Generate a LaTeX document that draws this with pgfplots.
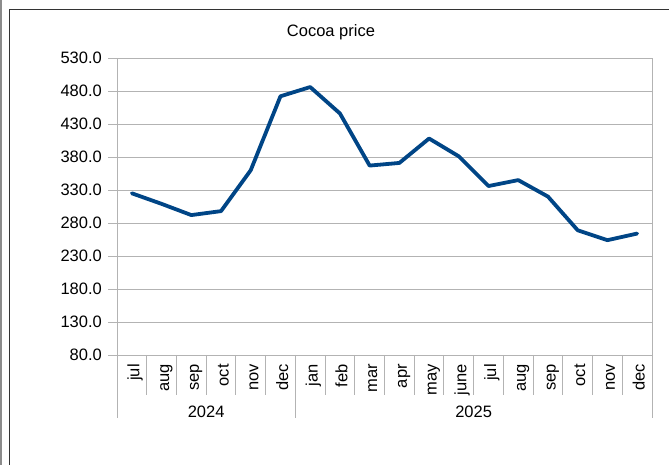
\documentclass[border=0pt]{standalone}
\usepackage{fontspec}
\setmainfont{Liberation Sans}
\usepackage{pgfplots}
\usepackage{pgfplotstable}
\pgfplotsset{compat=1.18}

\definecolor{series}{HTML}{004586}
\definecolor{gridc}{HTML}{B3B3B3}
\newcommand{\chartfont}{\fontsize{16.5bp}{19bp}\selectfont}

% monthly cocoa price, jul 2024 - dec 2025
\pgfplotstableread{
x month price
0 jul 325
1 aug 309
2 sep 292
3 oct 298
4 nov 360
5 dec 472
6 jan 486
7 feb 446
8 mar 367
9 apr 371
10 may 408
11 june 381
12 jul 336
13 aug 345
14 sep 320
15 oct 269
16 nov 254
17 dec 264
}\cocoa

\begin{document}
\begin{tikzpicture}
\path[use as bounding box] (0bp,0bp) rectangle (669bp,465bp);
% window frame
\draw[black!45, line width=1.6bp] (1.2bp,0bp) -- (1.2bp,465bp);
\draw[black!80, line width=1.3bp] (9.5bp,0bp) -- (9.5bp,455.5bp) -- (669bp,455.5bp);
\node[font=\chartfont] at (331bp,433bp) {Cocoa price};
\begin{axis}[
    at={(117bp,110bp)}, anchor=south west,
    scale only axis, width=535bp, height=297bp,
    clip=false,
    xmin=-0.5, xmax=17.5,
    ymin=80, ymax=530,
    xtick={0,...,17},
    xticklabels from table={\cocoa}{month},
    xtick style={draw=none},
    xtick pos=bottom,
    xticklabel style={rotate=90, anchor=east, inner sep=0pt,
        text height=0.72em, text depth=0.21em, yshift=-5bp},
    ytick={80,130,...,530},
    ytick pos=left,
    ytick style={gridc, line width=0.9bp},
    major tick length=9bp,
    tick align=outside,
    yticklabel style={inner sep=0pt, xshift=-6bp,
        /pgf/number format/fixed,
        /pgf/number format/fixed zerofill,
        /pgf/number format/precision=1,
        /pgf/number format/assume math mode=true},
    scaled y ticks=false,
    tick label style={font=\chartfont},
    ymajorgrids,
    grid style={gridc, line width=0.9bp},
    axis line style={gridc, line width=0.9bp},
]
\addplot[series, line width=3.8bp, line join=round, line cap=round]
    table[x=x, y=price] {\cocoa};
% category separators below the axis
\pgfplotsinvokeforeach{-0.5,0.5,...,17.5}{
    \draw[gridc, line width=0.9bp] (axis cs:#1,80) -- ++(0bp,-40bp);
}
\draw[gridc, line width=0.9bp] (axis cs:-0.5,80) -- ++(0bp,-63bp);
\draw[gridc, line width=0.9bp] (axis cs:5.5,80) -- ++(0bp,-63bp);
\draw[gridc, line width=0.9bp] (axis cs:17.5,80) -- ++(0bp,-63bp);
\node[font=\chartfont] at ([yshift=-57bp]axis cs:2.5,80) {2024};
\node[font=\chartfont] at ([yshift=-57bp]axis cs:11.5,80) {2025};
\end{axis}
\end{tikzpicture}
\end{document}
